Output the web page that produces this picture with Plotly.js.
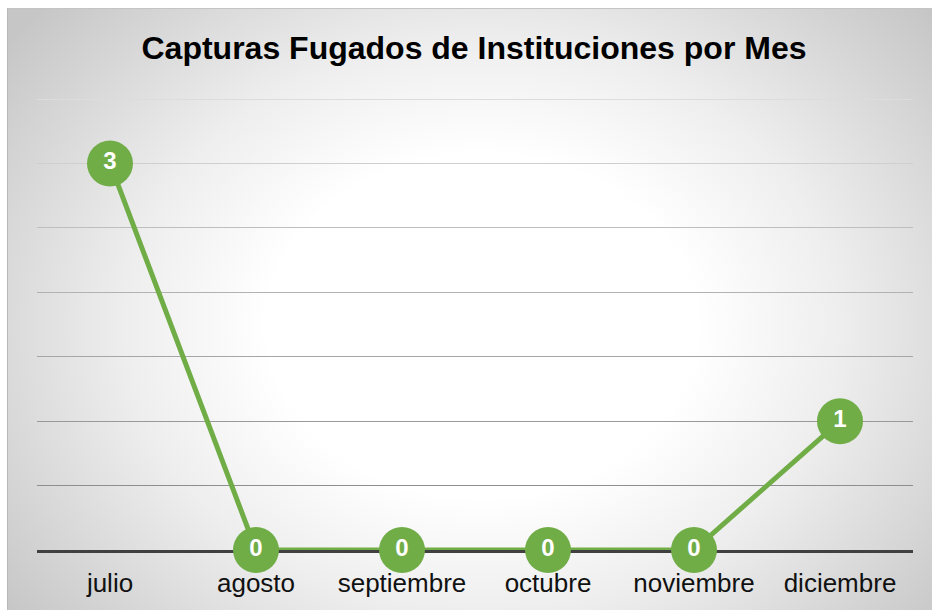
<!DOCTYPE html>
<html>
<head>
<meta charset="utf-8">
<script src="https://cdn.plot.ly/plotly-3.0.1.min.js"></script>
<style>
  html, body { margin: 0; padding: 0; background: #ffffff; }
  #wrap { position: relative; width: 932px; height: 610px; overflow: hidden; }
  #bg { position: absolute; left: 7px; top: 8px; width: 930px; height: 610px;
        border-top: 1px solid #c4c4c4; border-left: 1px solid #b8b8b8;
        background: radial-gradient(ellipse 64% 78% at 51% 52%, #ffffff 0%, #ffffff 36%, #eeeeee 60%, #c6c6c6 100%); }
  #chart { position: absolute; left: 0; top: 0; width: 932px; height: 610px; }
</style>
</head>
<body>
<div id="wrap">
  <div id="bg"></div>
  <div id="chart"></div>
</div>
<script>
const months = ["julio", "agosto", "septiembre", "octubre", "noviembre", "diciembre"];
const capturas = [3, 0, 0, 0, 0, 1];
const gridValues = [0.5, 1, 1.5, 2, 2.5, 3, 3.5];
const gridColors = ["#8e8e8e", "#999999", "#a6a6a6", "#b2b2b2", "#bebebe", "#cfcfcf", "#dcdcdc"];
const chartTitle = "Capturas Fugados de Instituciones por Mes";

const yRange = [0, 3.57];
const green = "#70AD47";
const font = "Liberation Sans, Arial, sans-serif";

const traces = [{
  type: "scatter",
  mode: "lines+markers+text",
  x: months,
  y: capturas,
  text: capturas.map(String),
  textposition: "middle center",
  textfont: { family: font, size: 24, color: "#ffffff", weight: 700 },
  line: { color: green, width: 5 },
  marker: { color: green, size: 46, line: { width: 0 } },
  cliponaxis: false,
  hoverinfo: "skip",
  showlegend: false
}];

const layout = {
  width: 932,
  height: 610,
  paper_bgcolor: "rgba(0,0,0,0)",
  plot_bgcolor: "rgba(0,0,0,0)",
  margin: { l: 37, r: 19, t: 90, b: 60 },
  showlegend: false,
  title: {
    text: "<b>" + chartTitle + "</b>",
    font: { family: font, size: 32, color: "#000000" },
    x: 474 / 932, xref: "container", xanchor: "center",
    y: 1 - 48 / 610, yref: "container", yanchor: "middle"
  },
  xaxis: {
    type: "category",
    range: [-0.5, months.length - 0.5],
    showgrid: false,
    zeroline: false,
    showline: true,
    linecolor: "#404040",
    linewidth: 3,
    layer: "below traces",
    ticks: "",
    ticklabelstandoff: 8,
    tickfont: { family: font, size: 26, color: "#111111" },
    fixedrange: true
  },
  yaxis: {
    range: yRange,
    showgrid: false,
    zeroline: false,
    showticklabels: false,
    ticks: "",
    fixedrange: true
  }
};

gridValues.forEach((v, i) => {
  const n = i + 2;
  layout["yaxis" + n] = {
    overlaying: "y",
    range: yRange,
    tickmode: "array",
    tickvals: [v],
    showgrid: true,
    gridcolor: gridColors[i],
    gridwidth: 1,
    showticklabels: false,
    ticks: "",
    zeroline: false,
    showline: false,
    layer: "below traces",
    fixedrange: true
  };
  traces.unshift({
    type: "scatter", mode: "markers", x: [months[0]], y: [v],
    yaxis: "y" + n, marker: { opacity: 0, size: 1 }, hoverinfo: "skip", showlegend: false
  });
});

Plotly.newPlot("chart", traces, layout, { displayModeBar: false, staticPlot: true });
</script>
</body>
</html>
